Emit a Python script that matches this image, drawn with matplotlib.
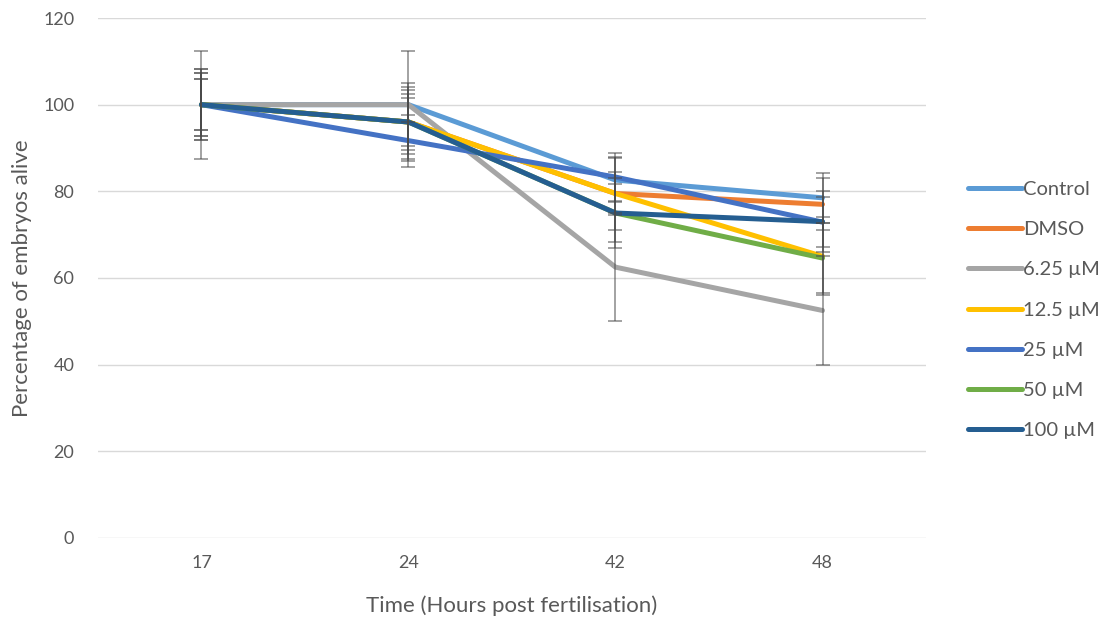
import matplotlib
matplotlib.use("Agg")
import matplotlib.pyplot as plt
import numpy as np

plt.rcParams['font.family'] = ['Lato', 'DejaVu Sans']

hours = ["17", "24", "42", "48"]
series_names = ["Control", "DMSO", "6.25 µM", "12.5 µM", "25 µM", "50 µM", "100 µM"]
series_colors = ["#5B9BD5", "#ED7D31", "#A5A5A5", "#FFC000", "#4472C4", "#70AD47", "#255E91"]

control = [100, 100, 82.6, 78.5]
dmso = [100, 96, 79.5, 77]
um_6_25 = [100, 100, 62.5, 52.5]
um_12_5 = [100, 96, 79.5, 65]
um_25 = [100, 91.7, 83.3, 72.9]
um_50 = [100, 96, 75, 64.6]
um_100 = [100, 96, 75, 73]

control_err = [5.9, 4.0, 5.0, 5.7]
dmso_err = [7.3, 9.0, 5.0, 6.0]
um_6_25_err = [12.5, 12.5, 12.5, 12.5]
um_12_5_err = [8.2, 7.4, 8.4, 9.0]
um_25_err = [8.2, 6.0, 5.5, 5.7]
um_50_err = [7.3, 6.5, 8.0, 8.0]
um_100_err = [5.9, 5.5, 6.8, 7.0]

values = [control, dmso, um_6_25, um_12_5, um_25, um_50, um_100]
errors = [control_err, dmso_err, um_6_25_err, um_12_5_err, um_25_err, um_50_err, um_100_err]

fig = plt.figure(figsize=(11.07, 6.19), dpi=100)
ax = fig.add_axes([0.0885, 0.1309, 0.748, 0.840])

x = np.arange(len(hours))
handles = []
for name, col, vals in zip(series_names, series_colors, values):
    h, = ax.plot(x, vals, color=col, lw=3.6, solid_capstyle='round', zorder=3, label=name)
    handles.append(h)

for vals, errs in zip(values, errors):
    ax.errorbar(x, vals, yerr=errs, fmt='none', ecolor='#4a4a4a', alpha=0.6,
                elinewidth=1.2, capsize=5, capthick=1.2, zorder=4)

ax.set_xlim(-0.5, len(hours) - 0.5)
ax.set_ylim(0, 120)
ax.set_yticks(np.arange(0, 121, 20))
ax.set_xticks(x)
ax.set_xticklabels(hours)
ax.yaxis.grid(True, color='#D9D9D9', lw=1)
ax.set_axisbelow(True)
for s in ax.spines.values():
    s.set_visible(False)
ax.tick_params(axis='both', length=0, labelsize=13, labelcolor='#595959')
ax.tick_params(axis='y', pad=17)
ax.tick_params(axis='x', pad=12)

ax.set_xlabel("Time (Hours post fertilisation)", fontsize=16, color='#595959', labelpad=18)
ax.set_ylabel("Percentage of embryos alive", fontsize=16, color='#595959', labelpad=8)

leg = ax.legend(handles=handles, loc='center left', bbox_to_anchor=(0.874, 0.499),
                bbox_transform=fig.transFigure, frameon=False, fontsize=14.5,
                handlelength=2.7, handletextpad=0.05, labelspacing=1.15,
                borderpad=0, borderaxespad=0)
for t in leg.get_texts():
    t.set_color('#595959')

fig.savefig("out.png", dpi=100)
